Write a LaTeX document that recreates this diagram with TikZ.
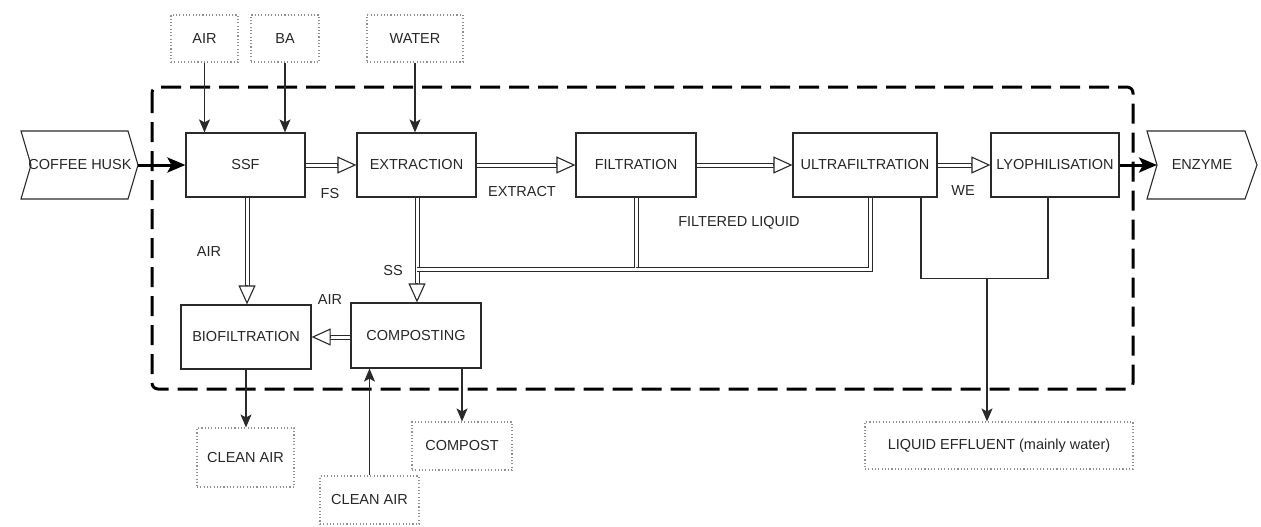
\documentclass[tikz,border=0pt]{standalone}
\usepackage{fontspec}
\setmainfont{Liberation Sans}
\usetikzlibrary{arrows.meta,calc}
\definecolor{ink}{HTML}{262626}
\definecolor{edge}{HTML}{2A2A2A}
\definecolor{dots}{HTML}{909090}
\tikzset{
  proc/.style={draw=edge, line width=1.2pt, minimum height=64pt, inner sep=0pt},
  ext/.style={draw=dots, line width=1.1pt, dash pattern=on 1.1pt off 2.2pt, inner sep=0pt},
  lbl/.style={inner sep=0pt},
  thin/.style={draw=edge, line width=1.2pt, -{Stealth[length=13pt,width=11pt,inset=3pt]}},
  plain/.style={draw=edge, line width=1.2pt},
  thick/.style={draw=black, line width=3pt, -{Stealth[length=18pt,width=15pt,inset=4pt]}},
  dbl/.style={draw=edge, line width=1pt, double=white, double distance=3pt},
  dhead/.style={draw=edge, line width=1.1pt, -{Triangle[length=19pt,width=17pt,fill=white]}},
  border/.style={draw=black, line width=3pt, dash pattern=on 20pt off 9pt, rounded corners=6pt}
}
\newcommand\dblarrow[2]{%
  \draw[dbl, shorten >=17pt] (#1) -- (#2);
  \draw[dhead] ($(#2)!19.6pt!(#1)$) -- (#2);}
\begin{document}
\begin{tikzpicture}[x=1pt,y=-1pt, font=\fontsize{14.5}{17}\selectfont, text=ink]
\useasboundingbox (0,0) rectangle (1261,527);

% system boundary
\draw[border] (152,87) rectangle (1133,389);

% process boxes
\node[proc, minimum width=119pt] (ssf) at (245.5,165) {SSF};
\node[proc, minimum width=119pt] (ext) at (416.5,165) {EXTRACTION};
\node[proc, minimum width=120pt] (filt) at (636,165) {FILTRATION};
\node[proc, minimum width=144pt] (uf) at (865,165) {ULTRAFILTRATION};
\node[proc, minimum width=128pt] (lyo) at (1055,165) {LYOPHILISATION};
\node[proc, minimum width=130pt] (bio) at (246,337) {BIOFILTRATION};
\node[proc, minimum width=130pt, minimum height=65pt] (comp) at (416,335.5) {COMPOSTING};

% external streams
\node[ext, minimum width=67pt, minimum height=47pt] (air) at (204.5,38.5) {AIR};
\node[ext, minimum width=68pt, minimum height=47pt] (ba) at (285,38.5) {BA};
\node[ext, minimum width=96pt, minimum height=47pt] (water) at (415,38.5) {WATER};
\node[ext, minimum width=97pt, minimum height=59pt] (cleanA) at (245.5,457.5) {CLEAN AIR};
\node[ext, minimum width=99pt, minimum height=48pt] (cleanB) at (369.5,500) {CLEAN AIR};
\node[ext, minimum width=100pt, minimum height=48pt] (compost) at (462,446) {COMPOST};
\node[ext, minimum width=268pt, minimum height=47pt] (liquid) at (999,445.5) {LIQUID EFFLUENT (mainly water)};

% input / output chevrons
\draw[edge, line width=1.1pt] (21,131) -- (128,131) -- (138,165) -- (128,199) -- (21,199) -- (31,165) -- cycle;
\node[lbl] (husk) at (80,165) {COFFEE HUSK};
\coordinate (huskTip) at (138,165);
\draw[edge, line width=1.1pt] (1147,131) -- (1245,131) -- (1257,165) -- (1245,199) -- (1147,199) -- (1157,165) -- cycle;
\node[lbl] (enz) at (1202,165) {ENZYME};
\coordinate (enzNotch) at (1157,165);

% inputs
\draw[thin] (air.south) -- (air.south |- ssf.north);
\draw[thin] (ba.south) -- (ba.south |- ssf.north);
\draw[thin] (water.south) -- (water.south |- ext.north);
\draw[thick] (huskTip) -- (ssf.west);
\draw[thick] (lyo.east) -- (enzNotch);

% main line
\dblarrow{ssf.east}{ext.west}
\dblarrow{ext.east}{filt.west}
\dblarrow{filt.east}{uf.west}
\dblarrow{uf.east}{lyo.west}

% downward streams
\coordinate (ssfB) at ($(ssf.south)+(1.5,0)$);
\coordinate (bioT) at (ssfB |- bio.north);
\dblarrow{ssfB}{bioT}
\coordinate (extB) at ($(ext.south)+(0.5,0)$);
\coordinate (compT) at (extB |- comp.north);
\dblarrow{extB}{compT}
\coordinate (junF) at ($(extB)+(0,72)$);
\draw[dbl, line join=miter] (filt.south) |- (junF);
\coordinate (ufB) at ($(uf.south)+(5,0)$);
\coordinate (junU) at ($(filt.south)+(0,72)$);
\draw[dbl, line join=miter] (ufB) |- (junU);

\coordinate (compW) at (comp.west |- bio.east);
\dblarrow{compW}{bio.east}

% effluent
\coordinate (ufL) at ($(uf.south)+(56,0)$);
\coordinate (lyoL) at ($(lyo.south)+(-7,0)$);
\draw[plain] (ufL) -- ++(0,81) -| (lyoL);
\coordinate (junL) at (987,278);
\draw[thin] (junL) -- (junL |- liquid.north);

% outputs from biofiltration and composting
\draw[thin] (bio.south) -- (bio.south |- cleanA.north);
\draw[thin] (cleanB.north) -- (cleanB.north |- comp.south);
\draw[thin] (compost.north |- comp.south) -- (compost.north);

% stream labels
\node[lbl] at (330,194) {FS};
\node[lbl] at (522,192) {EXTRACT};
\node[lbl] at (963,191) {WE};
\node[lbl] at (739,223) {FILTERED LIQUID};
\node[lbl] at (209,252) {AIR};
\node[lbl] at (393,271) {SS};
\node[lbl] at (330,300) {AIR};
\end{tikzpicture}
\end{document}
